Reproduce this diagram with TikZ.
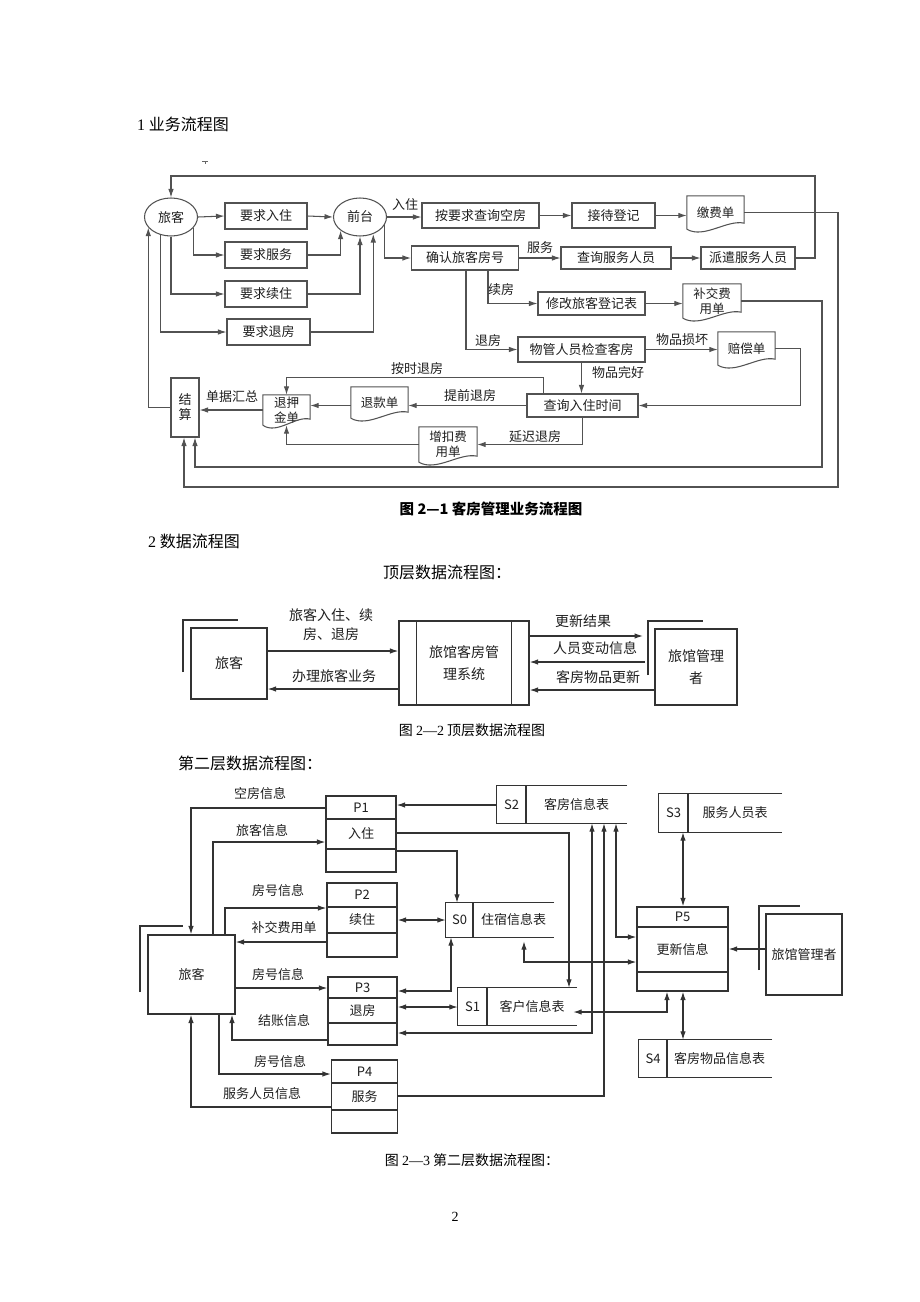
\documentclass[tikz,border=0pt]{standalone}
\usepackage{fontspec}
\setmainfont{Noto Sans CJK SC}
\newfontfamily\tnr{Liberation Serif}
\usetikzlibrary{arrows.meta,shapes.geometric,calc}
\newcommand\fsz[2]{\fontsize{#1}{#2}\selectfont}
\tikzset{
  ah/.tip={Latex[length=8.5pt,width=5.5pt]},
  ln/.style={draw=black!80, line width=1.2pt},
  arr/.style={ln, -ah},
  darr/.style={ln, ah-ah},
  bx/.style={ln, rectangle, inner sep=0pt, align=center, text=black!88, font=\fsz{13}{15}},
  docn/.style={rectangle, inner sep=0pt, align=center, text=black!88, font=\fsz{12.5}{14.5}},
  ell/.style={ln, ellipse, inner sep=0pt, minimum width=53, minimum height=38, text=black!88, font=\fsz{13}{15}},
  lab/.style={inner sep=0pt, text=black!88, font=\fsz{13}{15}},
  lab2/.style={inner sep=0pt, text=black!88, font=\fsz{14}{18}},
  bx2/.style={ln, rectangle, inner sep=0pt, align=center, text=black!88, font=\fsz{14}{22}},
  txt/.style={inner sep=0pt, text=black!88, font=\fsz{13}{15}},
  bx3/.style={ln, rectangle, inner sep=0pt, align=center, text=black!88, font=\fsz{13}{15}},
  head/.style={inner sep=0pt, text=black, font=\fsz{16}{18}},
  capt/.style={inner sep=0pt, text=black, font=\fsz{14}{16}},
}
% document shape with wavy bottom
\newcommand\docwave[1]{%
  \draw[ln] (#1.south west) -- (#1.north west) -- (#1.north east) -- ($(#1.south east)+(0,-6)$)
    .. controls ($(#1.south west)!0.7!(#1.south east)+(0,-10)$) and ($(#1.south west)!0.3!(#1.south east)+(0,10)$) .. (#1.south west);}
% process box: name, cx, w, top, d1, d2, bottom, id, text
\newcommand\procbox[9]{%
  \node[ln, rectangle, inner sep=0pt, minimum width=#3, minimum height=#7-#4] (#1) at (#2,{(#4+#7)/2}) {};
  \draw[ln] (#1.west |- 0,#5) -- (#1.east |- 0,#5);
  \draw[ln] (#1.west |- 0,#6) -- (#1.east |- 0,#6);
  \node[txt] (#1id) at (#2,{(#4+#5)/2}) {#8};
  \node[txt] (#1tx) at (#2,{(#5+#6)/2}) {#9};}
% data store: name, xl, xr, top, bottom, xdiv, id, text
\newcommand\store[8]{%
  \node[inner sep=0pt, minimum width=#3-#2, minimum height=#5-#4] (#1) at ({(#2+#3)/2},{(#4+#5)/2}) {};
  \draw[ln] (#1.north east) -- (#1.north west) -- (#1.south west) -- (#1.south east);
  \draw[ln] (#1.north west -| #6,0) -- (#1.south west -| #6,0);
  \node[txt] (#1id) at ({(#2+#6)/2},{(#4+#5)/2}) {#7};
  \node[txt] (#1tx) at ({(#6+#3)/2},{(#4+#5)/2}) {#8};}
\begin{document}
\begin{tikzpicture}[x=1pt,y=-1pt]
\useasboundingbox (0,0) rectangle (920,1302);
\fill[white] (0,0) rectangle (920,1302);

% ---------- headings ----------
\node[head, anchor=west] (h1) at (137,124) {{\tnr 1} 业务流程图};
\draw[line width=0.6pt, black!60] (202,161) -- (208,161) (205,161) -- (205,164);

% ---------- Figure 2-1 ----------
\begin{scope}[ln/.append style={draw=black!68, line width=1.05pt}]
\node[ell] (lk) at (171,217) {旅客};
\node[ell] (qt) at (360,217) {前台};
\node[bx, minimum width=82, minimum height=26] (rr) at (266,216) {要求入住};
\node[bx, minimum width=82, minimum height=26] (rs) at (266,255) {要求服务};
\node[bx, minimum width=82, minimum height=26] (rx) at (266,294) {要求续住};
\node[bx, minimum width=83, minimum height=26] (rt) at (268.5,332) {要求退房};
\node[bx, minimum width=117, minimum height=25] (ck) at (480.5,215.5) {按要求查询空房};
\node[bx, minimum width=83, minimum height=25] (jd) at (613.5,215.5) {接待登记};
\node[docn, minimum width=57, minimum height=33] (jf) at (715.5,212.5) {缴费单};
\node[bx, minimum width=107, minimum height=24] (qr) at (465,258) {确认旅客房号};
\node[bx, minimum width=110, minimum height=22] (cf) at (616,258) {查询服务人员};
\node[bx, minimum width=94, minimum height=22] (pq) at (748,258) {派遣服务人员};
\node[bx, minimum width=107, minimum height=23] (xg) at (591.5,303.5) {修改旅客登记表};
\node[docn, minimum width=58, minimum height=34] (bj) at (712,301) {补交费\\用单};
\node[bx, minimum width=127, minimum height=25] (wg) at (581.5,349.5) {物管人员检查客房};
\node[docn, minimum width=57, minimum height=33] (pc) at (746.5,348.5) {赔偿单};
\node[bx, minimum width=111, minimum height=23] (cr) at (582.5,405.5) {查询入住时间};
\node[docn, minimum width=57, minimum height=31] (tk) at (379.5,402.5) {退款单};
\node[docn, minimum width=47, minimum height=30] (ty) at (286.5,410) {退押\\金单};
\node[docn, minimum width=58, minimum height=35] (zk) at (448,444.5) {增扣费\\用单};
\node[bx, minimum width=28, minimum height=59] (js) at (185,407.5) {结\\算};
\docwave{jf}\docwave{bj}\docwave{pc}\docwave{tk}\docwave{ty}\docwave{zk}

\draw[arr] (lk.east) -- (rr.west);
\draw[arr] (lk.-25) |- (rs.west);
\draw[arr] (lk.south) |- (rx.west);
\draw[arr] (lk.-120) |- (rt.west);
\draw[arr] (rr.east) -- (qt.west);
\draw[arr] (rs.east) -| (qt.-145);
\draw[arr] (rx.east) -| (qt.south);
\draw[arr] (rt.east) -| (qt.-52);
\draw[arr] (qt.east) -- (qt.east -| ck.west);
\node[lab] (l1) at (405,205) {入住};
\draw[arr] (ck.east) -- (jd.west);
\draw[arr] (jd.east) -- (jd.east -| jf.west);
\draw[arr] (qt.-19) |- (qr.west);
\draw[arr] (qr.east) -- (cf.west);
\node[lab] (l2) at (540,248) {服务};
\draw[arr] (cf.east) -- (pq.west);
\draw[arr] (pq.east) -| (815,176) -| (lk.north);
\draw[arr] ($(qr.south)+(23,0)$) |- (xg.west);
\node[lab] (l3) at (501,290) {续房};
\draw[arr] (xg.east) -- (xg.east -| bj.west);
\draw[arr] ($(qr.south)+(1,0)$) |- (wg.west);
\node[lab] (l4) at (488,341) {退房};
\draw[arr] (wg.east) -- (wg.east -| pc.west);
\node[lab] (l5) at (682,340) {物品损坏};
\draw[arr] (wg.south) -- (wg.south |- cr.north);
\node[lab] (l6) at (618,373) {物品完好};
\draw[arr] (pc.east) -| ($(cr.east)+(162,0)$) -- (cr.east);
\draw[arr] ($(cr.north)+(-39,0)$) -- ++(0,-16) -| (ty.north);
\node[lab] (l7) at (417,369) {按时退房};
\draw[arr] (cr.west) -- (cr.west -| tk.east);
\node[lab] (l8) at (470,396) {提前退房};
\draw[arr] (tk.west |- cr.west) -- (ty.east |- cr.west);
\draw[arr] (cr.south) |- (zk.east);
\node[lab] (l9) at (535,437) {延迟退房};
\draw[arr] (zk.west) -| (ty.south);
\draw[arr] (ty.west) -- (ty.west -| js.east);
\node[lab] (l10) at (232,397) {单据汇总};
\draw[arr] (js.west) -| (lk.-155);
\draw[arr] (jf.east) -| (838,487) -| ($(js.south)+(-1,0)$);
\draw[arr] (bj.east) -| (822,467) -| ($(js.south)+(10,0)$);
\end{scope}

\node[capt, font=\fsz{14.5}{16}\bfseries] (c1) at (491,509) {图 2—1 客房管理业务流程图};
\node[head, anchor=west] (h2) at (148,541) {{\tnr 2} 数据流程图};
\node[head] (h3) at (447,572) {顶层数据流程图：};

% ---------- Figure 2-2 ----------
\node[bx2, minimum width=76, minimum height=71] (mk) at (229,663.5) {旅客};
\draw[ln] (183,672) -- (183,620) -- (238,620);
\node[bx2, minimum width=130, minimum height=84] (ms) at (464,663) {旅馆客房管\\理系统};
\draw[ln] ($(ms.north west)+(18,0)$) -- ($(ms.south west)+(18,0)$);
\draw[ln] ($(ms.north east)+(-18,0)$) -- ($(ms.south east)+(-18,0)$);
\node[bx2, minimum width=82, minimum height=76] (mg) at (696,667) {旅馆管理\\者};
\draw[ln] (648,675) -- (648,621) -- (703,621);
\coordinate (mgb) at (648,650);
\draw[arr] (mk.east |- 0,651) -- (ms.west |- 0,651);
\node[lab2, align=center, font=\fsz{14}{19}] (m1) at (331,625) {旅客入住、续\\房、退房};
\draw[arr] (ms.west |- 0,689) -- (mk.east |- 0,689);
\node[lab2] (m2) at (334,676) {办理旅客业务};
\draw[arr] (ms.east |- 0,636) -- ($(mgb |- 0,636)+(-5,0)$);
\node[lab2] (m3) at (583,621) {更新结果};
\draw[arr] ($(mgb |- 0,662)+(-3,0)$) -- (ms.east |- 0,662);
\node[lab2] (m4) at (595,648) {人员变动信息};
\draw[arr] (mg.west |- 0,690) -- (ms.east |- 0,690);
\node[lab2] (m5) at (598,677) {客房物品更新};

\node[capt] (c2) at (472,730) {图 {\tnr 2—2} 顶层数据流程图};
\node[head, anchor=west] (h4) at (178,763) {第二层数据流程图：};

% ---------- Figure 2-3 ----------
\node[bx3, minimum width=87, minimum height=79] (bk) at (191.5,974.5) {旅客};
\draw[ln] (140,992) -- (140,926) -- (183,926);
\procbox{p1}{361}{70}{796}{819}{849}{872}{P1}{入住}
\procbox{p2}{362}{70}{883}{907}{933}{957}{P2}{续住}
\procbox{p3}{362.5}{69}{977}{998}{1023}{1045}{P3}{退房}
\procbox{p4}{364.5}{66}{1060}{1083}{1110}{1133}{P4}{服务}
\procbox{p5}{682.5}{91}{907}{927}{972}{991}{P5}{更新信息}
\store{s2}{497}{627}{786}{823}{526}{S2}{客房信息表}
\store{s3}{659}{782}{794}{832}{688}{S3}{服务人员表}
\store{s0}{446}{554}{903}{937}{473}{S0}{住宿信息表}
\store{s1}{458}{577}{988}{1025}{487}{S1}{客户信息表}
\store{s4}{639}{772}{1040}{1077}{667}{S4}{客房物品信息表}
\node[bx3, minimum width=76, minimum height=81] (gl) at (804,954.5) {旅馆管理者};
\draw[ln] (759,970) -- (759,906) -- (800,906);

\draw[arr] (p1.west |- 0,808) -| (bk.north -| 191,0);
\node[lab] (b1) at (260,794) {空房信息};
\draw[arr] (bk.north -| 213,0) |- (p1.west |- 0,842);
\node[lab] (b2) at (262,831) {旅客信息};
\draw[arr] (bk.north -| 225,0) |- (p2.west |- 0,908);
\node[lab] (b3) at (278,891) {房号信息};
\draw[arr] (p2.west |- 0,942) -- (bk.east |- 0,942);
\node[lab] (b4) at (284,928) {补交费用单};
\draw[arr] (bk.east |- 0,988) -- (p3.west |- 0,988);
\node[lab] (b5) at (278,975) {房号信息};
\draw[arr] (p3.west |- 0,1040) -| (bk.south -| 232,0);
\node[lab] (b6) at (284,1021) {结账信息};
\draw[arr] (bk.south -| 219,0) |- (p4.west |- 0,1074);
\node[lab] (b7) at (280,1061) {房号信息};
\draw[arr] (p4.west |- 0,1107) -| (bk.south -| 191,0);
\node[lab] (b8) at (262,1094) {服务人员信息};

\draw[arr] (s2.west |- 0,805) -- (p1.east |- 0,805);
\draw[arr] (p1.east |- 0,833) -| (s1.north -| 569,0);
\draw[arr] (p1.east |- 0,851) -| (s0.north -| 457,0);
\draw[darr] (p2.east |- 0,920) -- (s0.west |- 0,920);
\draw[darr] (s0.south -| 451,0) |- (p3.east |- 0,991);
\draw[darr] (p3.east |- 0,1007) -- (s1.west |- 0,1007);
\draw[darr] (s2.south -| 592,0) |- (p3.east |- 0,1033);
\draw[arr] (p4.east |- 0,1096) -| (s2.south -| 604,0);
\draw[darr] (s2.south -| 616,0) |- (p5.west |- 0,937);
\draw[darr] ($(s0.south -| 524,0)+(0,4)$) |- (p5.west |- 0,962);
\draw[darr] (p5.south -| 667,0) |- ($(s1.east |- 0,1012)+(-4,0)$);
\draw[darr] (s3.south -| 683,0) -- (p5.north -| 683,0);
\draw[darr] (p5.south -| 683,0) -- (s4.north -| 683,0);
\draw[arr] (gl.west |- 0,949) -- (p5.east |- 0,949);

\node[capt] (c3) at (472,1160) {图 {\tnr 2—3} 第二层数据流程图：};
\node[inner sep=0pt, font=\fsz{14}{16}\tnr] (pg) at (455,1217) {2};
\end{tikzpicture}
\end{document}
